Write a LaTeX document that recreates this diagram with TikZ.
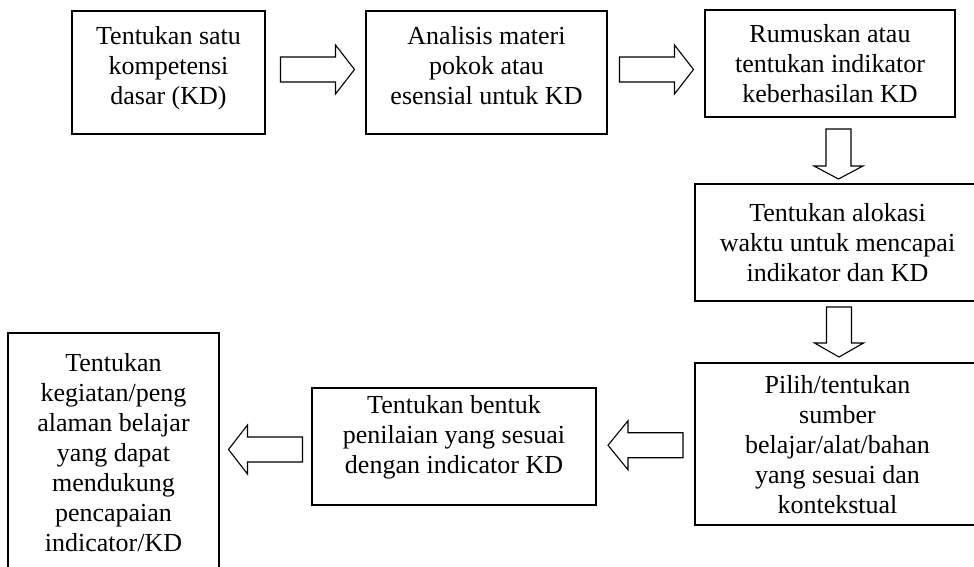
\documentclass[tikz,border=0pt]{standalone}
\usepackage{fontspec}
\setmainfont{Liberation Serif}
\usetikzlibrary{calc}

\begin{document}
\begin{tikzpicture}[
	% pixel-like units, y going down
	x=1pt, y=-1pt,
	font=\fontsize{26}{30}\selectfont,
	stepbox/.style={draw=black, line width=1.4pt, align=center, inner sep=0pt},
	arrowline/.style={draw=black, line width=1.1pt, fill=white, line join=miter},
	pics/blockarrow/.style 2 args={code={
		\draw[arrowline] (-#1/2,-12.5) -- (#1/2-#2,-12.5) -- (#1/2-#2,-24.5) -- (#1/2,0)
			-- (#1/2-#2,24.5) -- (#1/2-#2,12.5) -- (-#1/2,12.5) -- cycle;
	}}
	]
	
	\path[use as bounding box] (0,0) rectangle (974,566);
	\clip (0,0) rectangle (974,566);
	
	%
	% Top row
	%
	\node[stepbox, minimum width=193pt, minimum height=123pt, text depth=14pt] (kd) at (168.5,72.5)
		{Tentukan satu\\kompetensi\\dasar (KD)};
	\node[stepbox, minimum width=241pt, minimum height=123pt, text depth=14pt] (materi) at (486.5,72.5)
		{Analisis materi\\pokok atau\\esensial untuk KD};
	\node[stepbox, minimum width=250pt, minimum height=107pt] (indikator) at (830,63.5)
		{Rumuskan atau\\tentukan indikator\\keberhasilan KD};
	
	%
	% Right column (cut by the page edge)
	%
	\node[stepbox, minimum width=285pt, minimum height=117pt] (alokasi) at (837.5,242.5)
		{Tentukan alokasi\\waktu untuk mencapai\\indikator dan KD};
	\node[stepbox, minimum width=285pt, minimum height=162pt, text depth=0pt] (sumber) at (837.5,444)
		{Pilih/tentukan\\sumber\\belajar/alat/bahan\\yang sesuai dan\\kontekstual};
	
	%
	% Bottom row
	%
	\node[stepbox, minimum width=284pt, minimum height=117pt, text depth=24pt] (penilaian) at (454,446.5)
		{Tentukan bentuk\\penilaian yang sesuai\\dengan indicator KD};
	\node[stepbox, minimum width=211pt, minimum height=239pt] (kegiatan) at (113.5,452.5)
		{Tentukan\\kegiatan/peng\\alaman belajar\\yang dapat\\mendukung\\pencapaian\\indicator/KD};
	
	% hollow arrows between the steps
	\pic at ($(kd.east)!0.5!(materi.west)+(2,-3)$) {blockarrow={74}{19}};
	\pic at ($(materi.east)!0.5!(indikator.west)+(0.5,1.5)$) {blockarrow={74}{19}};
	\pic[rotate=-90] at ($(indikator.south)!0.5!(alokasi.north)+(4.75,3.5)$) {blockarrow={50}{13}};
	\pic[rotate=-90] at ($(alokasi.south)!0.5!(sumber.north)+(1.5,0)$) {blockarrow={50}{14}};
	\pic[rotate=180] at ($(sumber.west)!0.5!(penilaian.east)$) {blockarrow={75}{20}};
	\pic[rotate=180] at ($(penilaian.west)!0.5!(kegiatan.east)$) {blockarrow={74}{19}};
\end{tikzpicture}
\end{document}
